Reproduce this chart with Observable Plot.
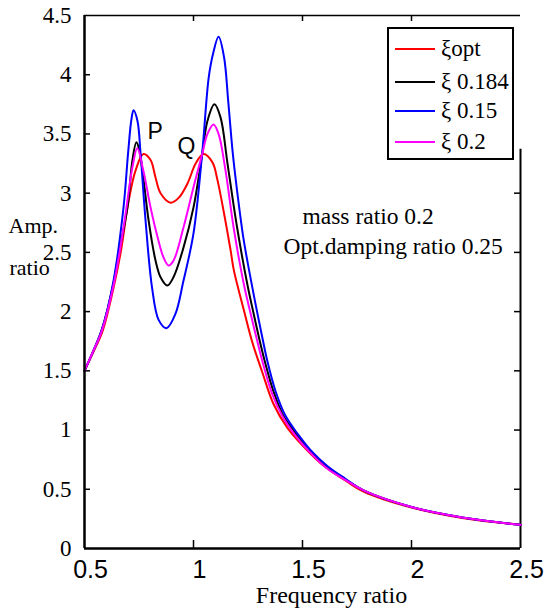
<!DOCTYPE html>
<html>
<head>
<meta charset="utf-8">
<script src="https://cdn.jsdelivr.net/npm/d3@7"></script>
<script src="https://cdn.jsdelivr.net/npm/@observablehq/plot@0.6"></script>
<style>
  html, body { margin: 0; padding: 0; background: #fff; }
  #wrap { position: relative; width: 549px; height: 610px; }
  #wrap svg text { font-family: "Liberation Serif", "Times New Roman", serif !important; }
  #wrap svg g[aria-label="x-axis tick label"] text,
  #wrap svg .sansText text { font-family: "Liberation Sans", Arial, sans-serif !important; }
  #legend { position: absolute; left: 387px; top: 27px; width: 123px; height: 129px;
            border: 2px solid #000; background: #fff; }
  .row { position: absolute; left: 0; height: 0; }
  .sw { position: absolute; left: 6px; width: 40px; border-top: 2px solid; top: -1px; }
  .lt { position: absolute; left: 52px; top: -14px; font: 23px "Liberation Serif", "Times New Roman", serif; white-space: nowrap; line-height: 28px; }
</style>
</head>
<body>
<div id="wrap"></div>
<script>
// ---- data ----
const seriesNames = ["ξopt", "ξ 0.184", "ξ 0.15", "ξ 0.2"];
const seriesColors = ["#ff0000", "#000000", "#0000ff", "#ff00ff"];

const optPts = [[0.5,1.5],[0.541,1.66],[0.58,1.82],[0.605,1.98],[0.665,2.49],[0.70,2.91],[0.734,3.19],[0.77,3.33],[0.803,3.28],[0.826,3.13],[0.849,3.0],[0.895,2.92],[0.932,2.96],[0.972,3.08],[1.01,3.25],[1.046,3.33],[1.087,3.26],[1.11,3.11],[1.14,2.83],[1.17,2.52],[1.185,2.35],[1.23,2.02],[1.27,1.74],[1.317,1.48],[1.367,1.22],[1.43,1.02],[1.49,0.89],[1.583,0.72],[1.63,0.655],[1.70,0.57],[1.78,0.48],[2.0,0.345],[2.24,0.255],[2.5,0.20]];
const x184Pts = [[0.5,1.5],[0.541,1.67],[0.58,1.85],[0.633,2.24],[0.651,2.43],[0.697,2.88],[0.72,3.28],[0.738,3.43],[0.752,3.36],[0.766,3.19],[0.794,2.77],[0.826,2.43],[0.849,2.29],[0.88,2.22],[0.908,2.29],[0.954,2.54],[1.0,2.88],[1.04,3.33],[1.064,3.61],[1.096,3.75],[1.124,3.64],[1.156,3.25],[1.20,2.71],[1.248,2.22],[1.275,1.99],[1.298,1.80],[1.33,1.56],[1.368,1.32],[1.415,1.11],[1.47,0.97],[1.532,0.83],[1.612,0.69],[1.70,0.58],[1.78,0.49],[2.0,0.35],[2.24,0.26],[2.5,0.20]];
const x15Pts = [[0.5,1.5],[0.541,1.67],[0.58,1.85],[0.633,2.26],[0.679,2.88],[0.70,3.34],[0.715,3.62],[0.725,3.70],[0.743,3.61],[0.757,3.34],[0.78,2.77],[0.81,2.20],[0.84,1.93],[0.876,1.86],[0.917,1.98],[0.954,2.26],[1.0,2.66],[1.04,3.34],[1.07,3.98],[1.09,4.18],[1.115,4.32],[1.14,4.15],[1.16,3.76],[1.18,3.34],[1.20,3.02],[1.229,2.62],[1.26,2.30],[1.284,2.07],[1.307,1.86],[1.339,1.58],[1.376,1.33],[1.422,1.12],[1.477,0.97],[1.537,0.83],[1.615,0.695],[1.70,0.585],[1.78,0.49],[2.0,0.35],[2.24,0.26],[2.5,0.20]];
const x2Pts = [[0.5,1.5],[0.541,1.67],[0.58,1.84],[0.633,2.22],[0.68,2.72],[0.72,3.22],[0.742,3.38],[0.77,3.19],[0.803,2.88],[0.835,2.63],[0.862,2.46],[0.885,2.39],[0.908,2.43],[0.954,2.71],[1.0,3.05],[1.04,3.33],[1.064,3.50],[1.092,3.58],[1.115,3.50],[1.147,3.19],[1.184,2.71],[1.23,2.24],[1.265,1.96],[1.29,1.77],[1.322,1.54],[1.36,1.31],[1.41,1.11],[1.465,0.96],[1.53,0.82],[1.61,0.68],[1.70,0.575],[1.78,0.49],[2.0,0.35],[2.24,0.26],[2.5,0.20]];

const xTicks = [0.5, 1, 1.5, 2, 2.5];
const yTicks = [0, 0.5, 1, 1.5, 2, 2.5, 3, 3.5, 4, 4.5];
const pqLabels = [{t: "P", x: 0.789, y: 3.46}, {t: "Q", x: 0.927, y: 3.33}];
const noteLabels = [{t: "mass ratio 0.2", x: 1.5, y: 2.74}, {t: "Opt.damping ratio 0.25", x: 1.413, y: 2.49}];
const xTitle = "Frequency ratio";
const yTitle = ["Amp.", "ratio"];

// ---- build ----
const allSeries = [optPts, x184Pts, x15Pts, x2Pts];
const rows = allSeries.flatMap((pts, i) => pts.map(([x, y]) => ({x, y, s: seriesNames[i]})));

const W = 549, H = 610, mL = 84, mR = 29, mT = 15, mB = 62;
const innerW = W - mL - mR, innerH = H - mT - mB;
const serif = "Liberation Serif";
const sans = "Liberation Sans";

const chart = Plot.plot({
  width: W, height: H,
  marginLeft: mL, marginRight: mR, marginTop: mT, marginBottom: mB,
  style: {fontFamily: serif, background: "#fff", overflow: "visible"},
  x: {domain: [0.5, 2.5], label: null},
  y: {domain: [0, 4.5], label: null, axis: null},
  color: {domain: seriesNames, range: seriesColors},
  marks: [
    // y tick labels (serif) as text marks
    Plot.text(yTicks, {y: d => d, frameAnchor: "left", textAnchor: "end", dx: -13, text: d => String(d), fontSize: 23, fill: "#000"}),
    Plot.axisX({ticks: xTicks, tickSize: 0, tickPadding: 12, fontSize: 25, fontFamily: sans, tickFormat: d => String(d), label: null, dx: 6, fill: "#000"}),
    // inward ticks
    Plot.tickY(yTicks.slice(1, -1), {y: d => d, insetRight: innerW - 6, stroke: "#000", strokeWidth: 1.5}),
    Plot.tickY(yTicks.slice(1, 7), {y: d => d, insetLeft: innerW - 6, stroke: "#000", strokeWidth: 1.5}),
    Plot.tickX(xTicks.slice(1, -1), {x: d => d, insetTop: innerH - 8, stroke: "#000", strokeWidth: 1.5}),
    Plot.tickX(xTicks.slice(1, -1), {x: d => d, insetBottom: innerH - 6, stroke: "#000", strokeWidth: 1.5}),
    // frame
    Plot.ruleY([4.5], {stroke: "#000", strokeWidth: 1.5}),
    Plot.ruleX([2.5], {y1: 0, y2: 3.37, stroke: "#000", strokeWidth: 2}),
    // curves
    Plot.line(rows, {x: "x", y: "y", z: "s", stroke: "s", strokeWidth: 2, curve: "catmull-rom"}),
    Plot.ruleX([0.5], {stroke: "#000", strokeWidth: 2.5}),
    Plot.ruleY([0], {stroke: "#000", strokeWidth: 2.5}),
    // annotations
    Plot.text(pqLabels, {x: "x", y: "y", text: "t", textAnchor: "start", lineAnchor: "bottom", fontSize: 23, fill: "#000", className: "sansText"}),
    Plot.text(noteLabels, {x: "x", y: "y", text: "t", textAnchor: "start", lineAnchor: "bottom", fontSize: 23.5, fill: "#000"}),
    Plot.text([xTitle], {frameAnchor: "bottom", lineAnchor: "middle", dy: 47, dx: 29, text: d => d, fontSize: 24, fill: "#000"}),
    Plot.text([yTitle[0]], {frameAnchor: "left", lineAnchor: "middle", dx: -76, dy: -56, textAnchor: "start", text: d => d, fontSize: 22, fill: "#000"}),
    Plot.text([yTitle[1]], {frameAnchor: "left", lineAnchor: "middle", dx: -75, dy: -14, textAnchor: "start", text: d => d, fontSize: 22, fill: "#000"})
  ]
});

const wrap = document.getElementById("wrap");
wrap.appendChild(chart);

// legend overlay
const leg = document.createElement("div");
leg.id = "legend";
const rowTops = [20, 53, 82, 113];
seriesNames.forEach((name, i) => {
  const r = document.createElement("div");
  r.className = "row";
  r.style.top = rowTops[i] + "px";
  const sw = document.createElement("div");
  sw.className = "sw";
  sw.style.borderTopColor = seriesColors[i];
  const t = document.createElement("div");
  t.className = "lt";
  t.textContent = name;
  r.appendChild(sw); r.appendChild(t);
  leg.appendChild(r);
});
wrap.appendChild(leg);
</script>
</body>
</html>
